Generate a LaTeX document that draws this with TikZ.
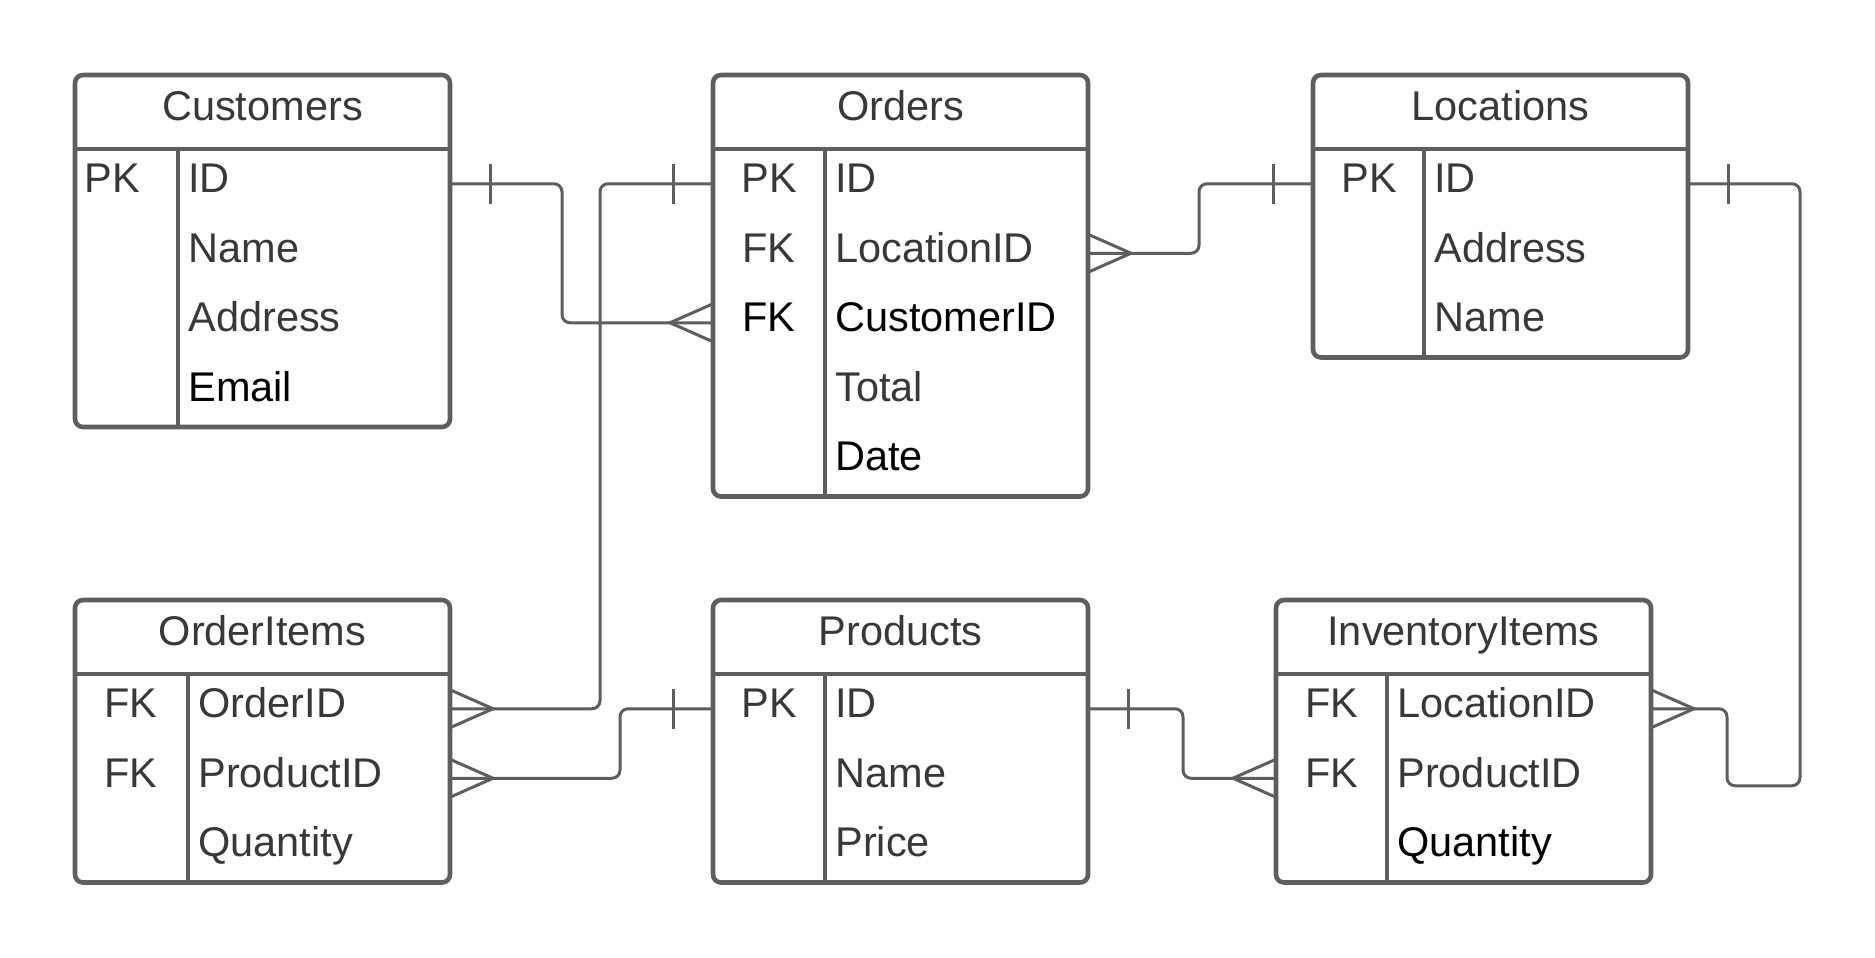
\documentclass[tikz,border=0pt]{standalone}
\usepackage{fontspec}
\setmainfont{Liberation Sans}
\usetikzlibrary{positioning,calc}

\definecolor{linegray}{RGB}{94,94,94}
\definecolor{txtgray}{RGB}{56,56,56}

\tikzset{
    tblline/.style={draw=linegray, line width=2.3pt},
    conn/.style={draw=linegray, line width=1.5pt, rounded corners=4pt},
    tbltitle/.style={anchor=base, inner sep=0pt, text=txtgray, font=\fontsize{20.75}{24}\selectfont},
    keytxt/.style={anchor=base, inner sep=0pt, font=\fontsize{20.75}{24}\selectfont},
    fieldtxt/.style={anchor=base west, inner sep=0pt, font=\fontsize{20.75}{24}\selectfont},
    one/.pic={\draw[conn] (-40,-20) -- (-40,20);},
    many/.pic={\draw[conn, rounded corners=0pt] (0,-19) -- (-43,0) -- (0,19);}
}

% table: name, x, y, rows, key column, key x, title, key/field/colour list
\newcommand{\ertable}[8]{%
    \begin{scope}[shift={(#2,#3)}]
        \draw[tblline, rounded corners=4pt] (0,0) rectangle (375,{74+69.5*#4});
        \draw[tblline] (0,74) -- (375,74);
        \draw[tblline] (#5,74) -- (#5,{74+69.5*#4});
        \node[tbltitle] (#1-title) at (187.5,45.5) {#7};
        \foreach \k/\f/\c [count=\i] in {#8} {
            \node[keytxt, text=\c] (#1-k\i) at (#6,{74+69.5*\i-25.75}) {\k};
            \node[fieldtxt, text=\c] (#1-f\i) at (#5+10,{74+69.5*\i-25.75}) {\f};
            \coordinate (#1-w\i) at (0,{74+69.5*\i-34.75});
            \coordinate (#1-e\i) at (375,{74+69.5*\i-34.75});
        }
    \end{scope}
}

\begin{document}
\begin{tikzpicture}[x=0.5pt, y=-0.5pt]
    \path[fill=white, use as bounding box] (0,0) rectangle (1875,958);

    % Tables
    \ertable{cust}{75}{75}{4}{103}{37}{Customers}{PK/ID/txtgray, /Name/txtgray, /Address/txtgray, /Email/black}
    \ertable{ord}{713}{75}{5}{112}{56}{Orders}{PK/ID/txtgray, FK/LocationID/txtgray, FK/CustomerID/black, /Total/txtgray, /Date/black}
    \ertable{loc}{1313}{75}{3}{111}{56}{Locations}{PK/ID/txtgray, /Address/txtgray, /Name/txtgray}
    \ertable{oitem}{75}{600}{3}{113}{56}{OrderItems}{FK/OrderID/txtgray, FK/ProductID/txtgray, /Quantity/txtgray}
    \ertable{prod}{713}{600}{3}{112}{56}{Products}{PK/ID/txtgray, /Name/txtgray, /Price/txtgray}
    \ertable{inv}{1276}{600}{3}{111}{56}{InventoryItems}{FK/LocationID/txtgray, FK/ProductID/txtgray, /Quantity/black}

    % Relations
    \draw[conn] (cust-e1) -- ++(112,0) |- (ord-w3);
    \pic[xscale=-1] at (cust-e1) {one};
    \pic at (ord-w3) {many};

    \draw[conn] (ord-w1) -- ++(-113,0) |- (oitem-e1);
    \pic at (ord-w1) {one};
    \pic[xscale=-1] at (oitem-e1) {many};

    \draw[conn] (ord-e2) -- ++(111,0) |- (loc-w1);
    \pic[xscale=-1] at (ord-e2) {many};
    \pic at (loc-w1) {one};

    \draw[conn] (loc-e1) -- ++(112,0) |- ($(inv-e1)+(76,77)$) |- (inv-e1);
    \pic[xscale=-1] at (loc-e1) {one};
    \pic[xscale=-1] at (inv-e1) {many};

    \draw[conn] (prod-w1) -- ++(-93,0) |- (oitem-e2);
    \pic at (prod-w1) {one};
    \pic[xscale=-1] at (oitem-e2) {many};

    \draw[conn] (prod-e1) -- ++(95,0) |- (inv-w2);
    \pic[xscale=-1] at (prod-e1) {one};
    \pic at (inv-w2) {many};
\end{tikzpicture}
\end{document}
